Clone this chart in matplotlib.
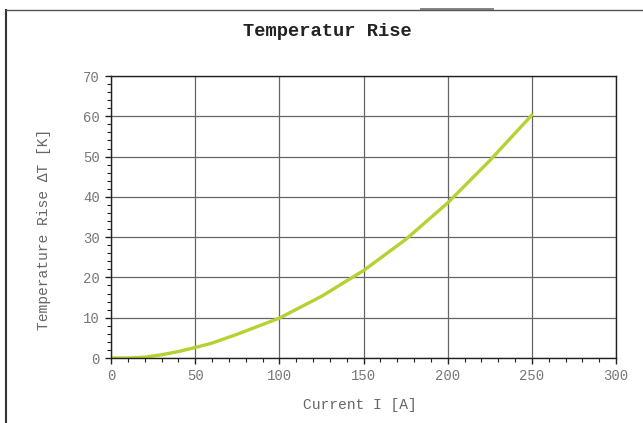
import matplotlib.pyplot as plt
from matplotlib.patches import Rectangle
from matplotlib.lines import Line2D
from matplotlib.ticker import MultipleLocator

# values
current = [0, 10, 20, 30, 40, 50, 60, 75, 100, 125, 150, 175, 200, 225, 250]
temp_rise = [0, 0, 0.2, 0.8, 1.6, 2.6, 3.7, 5.9, 9.9, 15.3, 21.7, 29.4, 38.5, 49.0, 60.3]

mono = 'Liberation Mono'

fig = plt.figure(figsize=(6.43, 4.23), dpi=100)
fig.patch.set_facecolor('white')

# outer frame lines and the small grey bar at the top
fig.add_artist(Line2D([6 / 643, 6 / 643], [0, 1 - 10 / 423], transform=fig.transFigure,
                      color='#333333', lw=1.5))
fig.add_artist(Line2D([6 / 643, 1], [1 - 10 / 423, 1 - 10 / 423], transform=fig.transFigure,
                      color='#555555', lw=1.0))
fig.add_artist(Rectangle((420 / 643, 1 - 11 / 423), 74 / 643, 3 / 423, transform=fig.transFigure,
                         color='#888888', lw=0))

ax = fig.add_axes([111 / 643, 1 - 358 / 423, 505 / 643, 282 / 423])

ax.plot(current, temp_rise, color='#b4d232', lw=2.4, solid_capstyle='round')

ax.set_xlim(0, 300)
ax.set_ylim(0, 70)
ax.xaxis.set_major_locator(MultipleLocator(50))
ax.xaxis.set_minor_locator(MultipleLocator(10))
ax.yaxis.set_major_locator(MultipleLocator(10))
ax.yaxis.set_minor_locator(MultipleLocator(2))

ax.grid(True, which='major', color='#666666', lw=0.9)
ax.set_axisbelow(True)
for s in ax.spines.values():
    s.set_color('#222222')
    s.set_linewidth(1.0)

ax.tick_params(which='major', direction='out', length=4, width=1, color='#222222',
               labelcolor='#777777', labelsize=10, pad=4)
ax.tick_params(which='minor', direction='out', length=3, width=0.8, color='#222222')
for lab in ax.get_xticklabels() + ax.get_yticklabels():
    lab.set_family(mono)

ax.set_xlabel('Current I [A]', family=mono, fontsize=10.5, color='#666666')
ax.set_ylabel('Temperature Rise ΔT [K]', family=[mono, 'DejaVu Sans'], fontsize=10.5,
              color='#666666')
ax.yaxis.set_label_coords(-0.119, 0.457)
ax.xaxis.set_label_coords(0.492, -0.143)

fig.text(327 / 643, 1 - 32 / 423, 'Temperatur Rise', family=mono, fontweight='bold',
         fontsize=13.5, ha='center', va='center', color='#222222')

fig.savefig('out.png', dpi=100)
